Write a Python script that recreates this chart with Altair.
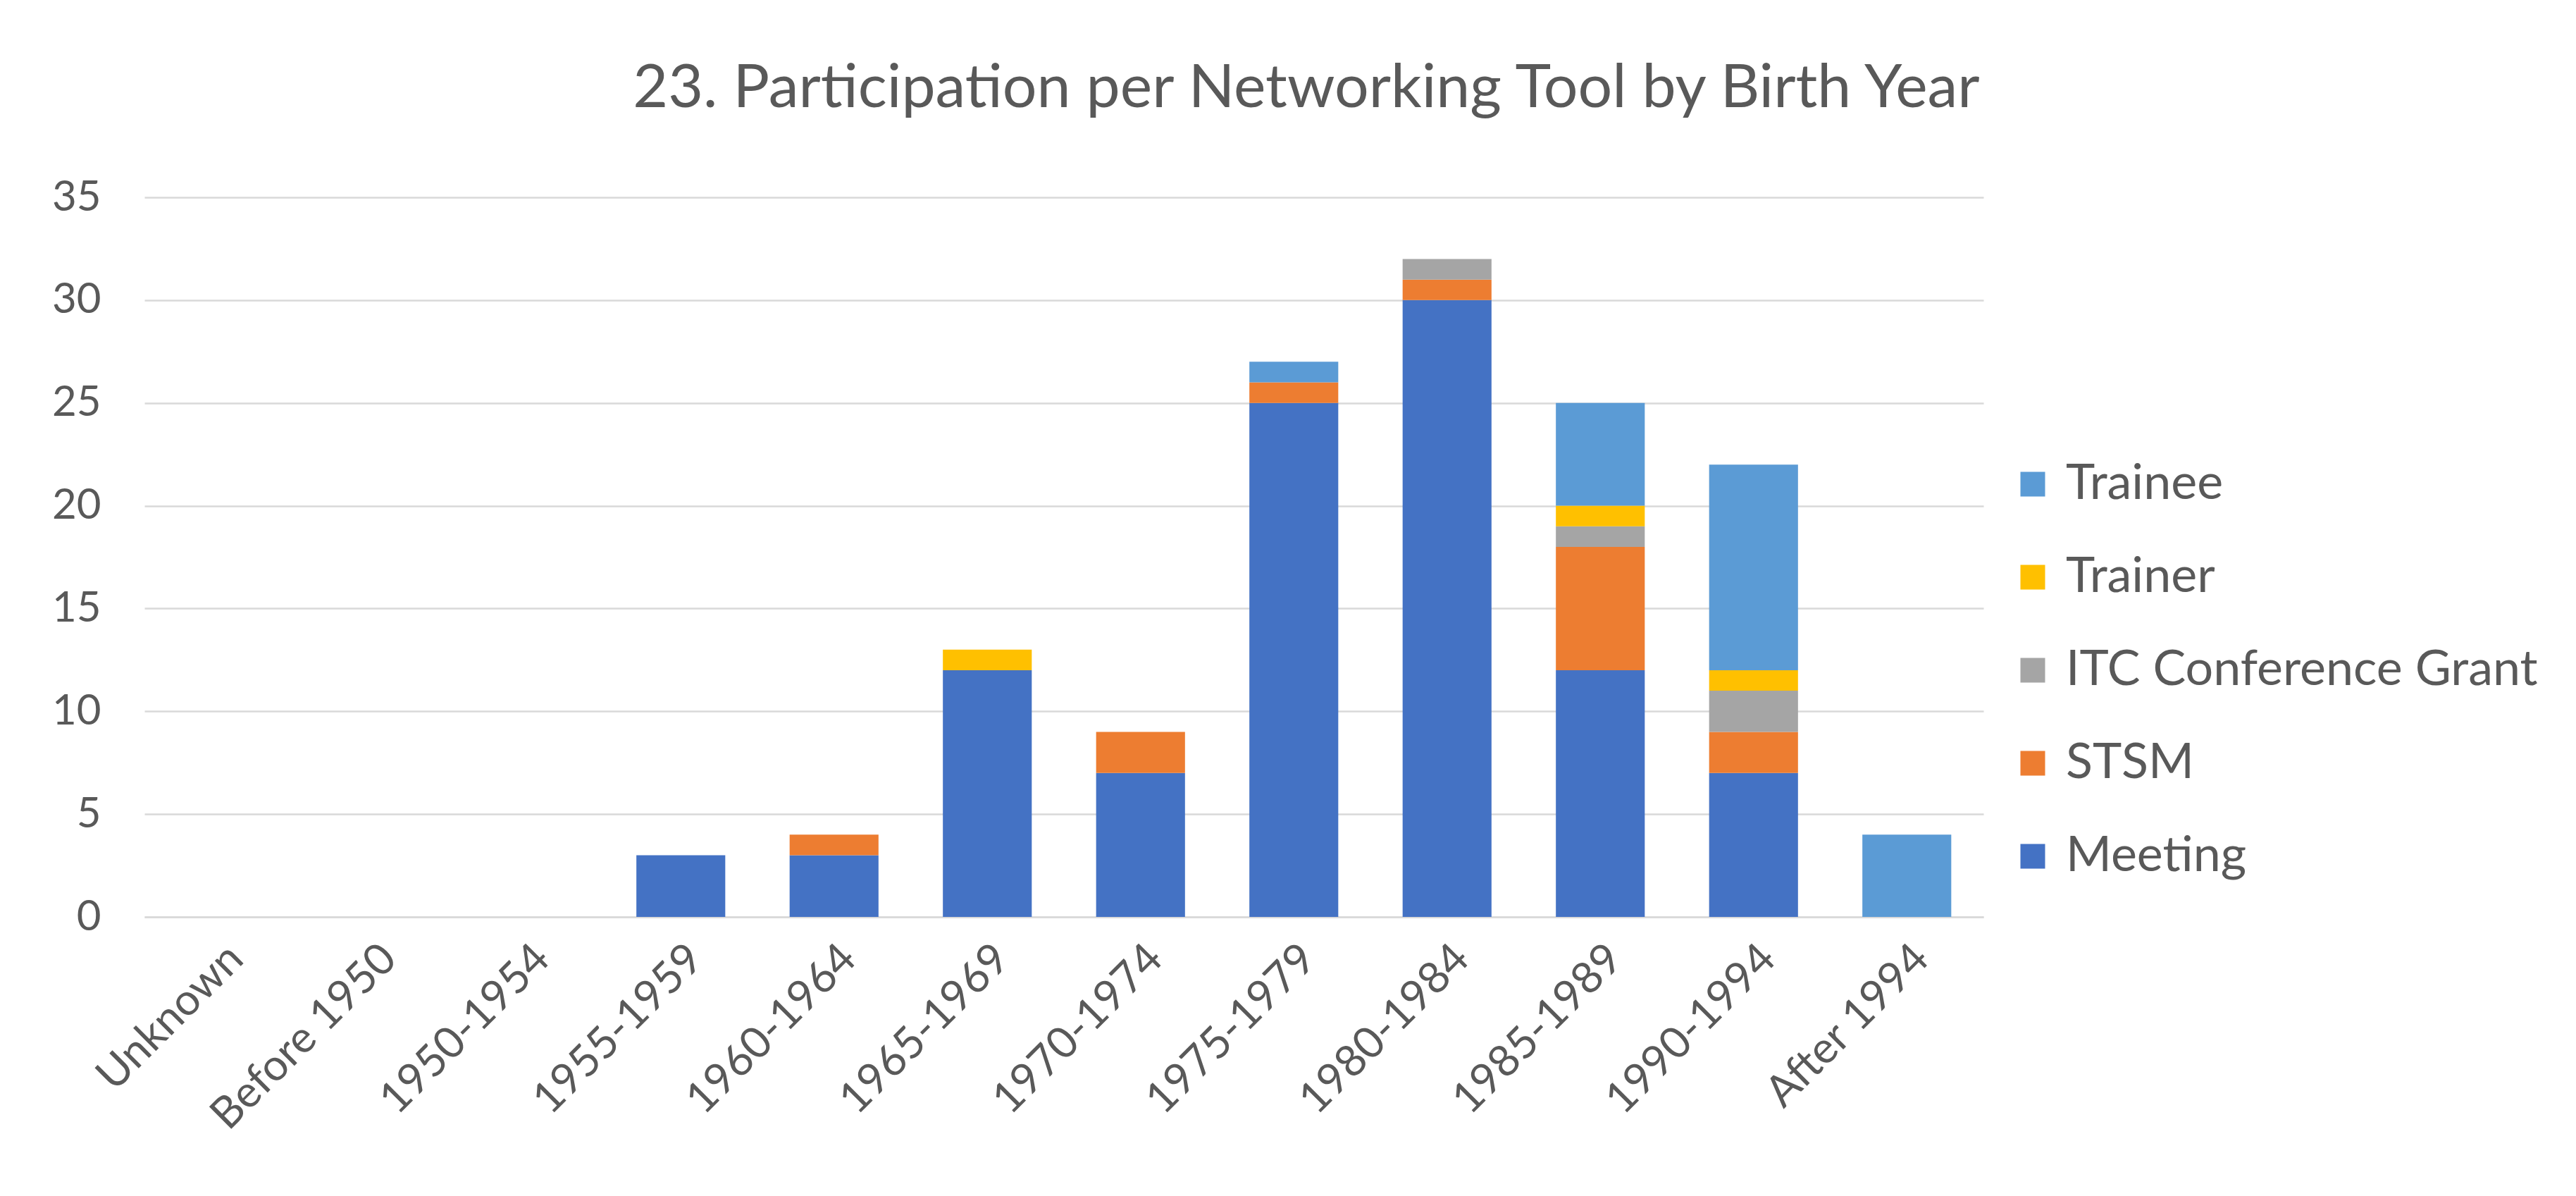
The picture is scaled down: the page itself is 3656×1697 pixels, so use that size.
import altair as alt
import pandas as pd

categories = ["Unknown", "Before 1950", "1950-1954", "1955-1959", "1960-1964",
              "1965-1969", "1970-1974", "1975-1979", "1980-1984", "1985-1989",
              "1990-1994", "After 1994"]
series = ["Meeting", "STSM", "ITC Conference Grant", "Trainer", "Trainee"]
meeting = [0, 0, 0, 3, 3, 12, 7, 25, 30, 12, 7, 0]
stsm = [0, 0, 0, 0, 1, 0, 2, 1, 1, 6, 2, 0]
itc = [0, 0, 0, 0, 0, 0, 0, 0, 1, 1, 2, 0]
trainer = [0, 0, 0, 0, 0, 1, 0, 0, 0, 1, 1, 0]
trainee = [0, 0, 0, 0, 0, 0, 0, 1, 0, 5, 10, 4]
colors = ["#4472C4", "#ED7D31", "#A5A5A5", "#FFC000", "#5B9BD5"]

values = [meeting, stsm, itc, trainer, trainee]
rows = []
for si, (s, vals) in enumerate(zip(series, values)):
    for c, v in zip(categories, vals):
        if v > 0:
            rows.append({"category": c, "series": s, "value": v, "order": si})
df = pd.DataFrame(rows)

FONT = "Lato"
TXT = "#595959"
GRID = "#D9D9D9"

chart = alt.Chart(df).mark_bar().encode(
    x=alt.X("category:N", sort=categories,
            scale=alt.Scale(domain=categories, paddingInner=0.42, paddingOuter=0.21),
            axis=alt.Axis(title=None, labelAngle=-45, labelFontSize=62, labelColor=TXT,
                          labelFont=FONT, ticks=False, domainColor=GRID, domainWidth=2.5,
                          labelPadding=28, labelLimit=0)),
    y=alt.Y("value:Q", stack="zero",
            scale=alt.Scale(domain=[0, 35], nice=False),
            axis=alt.Axis(title=None, values=[0, 5, 10, 15, 20, 25, 30, 35],
                          labelFontSize=60, labelColor=TXT, labelFont=FONT, ticks=False,
                          domain=False, gridColor=GRID, gridWidth=2.5, labelPadding=62)),
    color=alt.Color("series:N",
                    scale=alt.Scale(domain=series[::-1], range=colors[::-1]),
                    legend=alt.Legend(title=None, orient="none", legendX=2645, legendY=372,
                                      symbolType="square", symbolSize=1225,
                                      symbolStrokeWidth=0, labelFontSize=70, labelFont=FONT,
                                      labelColor=TXT, rowPadding=62, labelOffset=12,
                                      labelLimit=0)),
    order=alt.Order("order:Q", sort="ascending"),
).properties(
    width=2610, height=1021,
    title=alt.TitleParams("23. Participation per Networking Tool by Birth Year",
                          fontSize=86, font=FONT, color=TXT, fontWeight="normal",
                          anchor="middle", dx=344, offset=80),
    autosize=alt.AutoSizeParams(type="none"),
    padding={"left": 197, "top": 272, "right": 810, "bottom": 380},
).configure_view(stroke=None)

chart.save("out.html", embed_options={"renderer": "svg", "actions": False})
